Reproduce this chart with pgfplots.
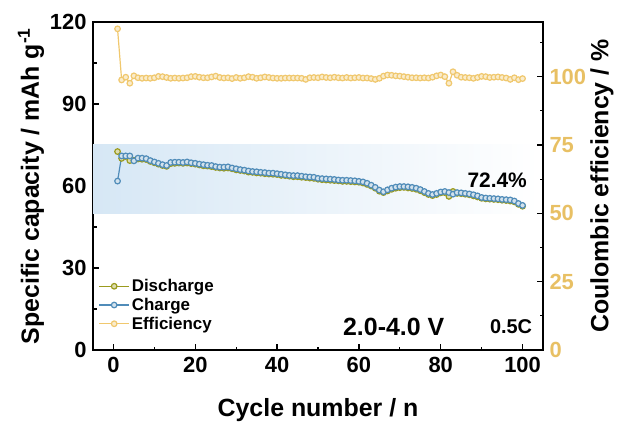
\documentclass[border=0pt]{standalone}
\usepackage{fontspec}
\setmainfont{Liberation Sans}
\usepackage{pgfplots}
\pgfplotsset{compat=1.18}
\usepackage{pgfplotstable}
\definecolor{eff}{RGB}{240,200,110}
\definecolor{effl}{RGB}{232,192,100}
\definecolor{chg}{RGB}{80,140,185}
\definecolor{dis}{RGB}{155,155,30}
\definecolor{shade}{RGB}{214,231,245}

\pgfplotstableread{
n c d e
1 61.8 72.6 117.5
2 71.0 70.1 98.8
3 71.0 70.8 99.8
4 71.0 69.3 97.6
5 69.2 69.4 100.3
6 70.2 69.9 99.6
7 70.2 69.8 99.4
8 70.0 69.7 99.5
9 69.3 69.0 99.4
10 68.8 68.5 99.6
11 68.3 68.0 100.1
12 67.8 67.5 100.0
13 67.5 67.2 99.7
14 68.6 68.2 99.4
15 68.7 68.3 99.5
16 68.7 68.4 99.4
17 68.6 68.3 99.5
18 68.8 68.4 99.6
19 68.5 68.2 100.0
20 68.3 68.0 100.1
21 68.0 67.7 99.8
22 67.8 67.4 99.6
23 67.6 67.3 99.6
24 67.5 67.1 99.9
25 67.1 66.8 100.2
26 66.9 66.6 99.7
27 66.9 66.5 99.5
28 67.0 66.6 99.6
29 66.6 66.3 99.3
30 66.3 65.9 99.7
31 66.0 65.7 99.4
32 65.8 65.5 99.6
33 65.5 65.1 100.0
34 65.3 65.0 99.8
35 65.2 64.8 99.4
36 65.0 64.7 99.6
37 64.9 64.5 99.9
38 64.7 64.4 99.7
39 64.7 64.3 99.5
40 64.5 64.2 99.4
41 64.3 63.9 99.4
42 64.1 63.8 99.5
43 63.9 63.6 99.5
44 63.8 63.4 99.5
45 63.8 63.4 99.5
46 63.6 63.2 99.4
47 63.4 63.1 99.0
48 63.3 62.9 99.6
49 63.2 62.8 99.7
50 62.8 62.5 99.6
51 62.7 62.3 99.9
52 62.6 62.2 99.7
53 62.5 62.1 99.6
54 62.4 62.0 99.8
55 62.2 61.9 99.6
56 62.1 61.7 99.5
57 62.1 61.7 99.7
58 62.0 61.6 99.5
59 61.9 61.5 99.6
60 61.7 61.4 99.7
61 61.5 61.1 99.5
62 61.0 60.6 99.5
63 60.3 60.0 99.3
64 59.5 59.2 99.0
65 58.5 58.1 99.4
66 57.9 57.6 100.2
67 58.6 58.2 100.6
68 59.2 58.8 100.5
69 59.6 59.2 100.3
70 59.8 59.4 100.2
71 59.8 59.5 100.0
72 59.7 59.3 99.8
73 59.5 59.1 99.6
74 59.2 58.8 99.6
75 58.7 58.3 99.5
76 58.0 57.6 99.6
77 57.3 56.9 99.5
78 56.9 56.5 99.8
79 57.3 56.9 100.3
80 57.8 57.5 100.6
81 58.0 57.6 100.0
82 57.6 56.2 97.6
83 57.0 58.0 101.8
84 57.6 57.3 100.5
85 57.5 57.2 99.8
86 57.3 57.0 99.7
87 57.1 56.8 99.6
88 56.8 56.4 99.4
89 56.4 56.0 99.7
90 55.8 55.5 100.1
91 55.6 55.3 100.0
92 55.5 55.2 99.7
93 55.4 55.1 99.8
94 55.3 55.0 99.9
95 55.1 54.8 99.7
96 55.0 54.7 99.5
97 54.9 54.5 99.0
98 54.5 54.2 99.6
99 53.6 53.3 98.9
100 52.9 52.6 99.3
}\data

\begin{document}
\begin{tikzpicture}
\useasboundingbox (0,0) rectangle (620bp,427bp);
\begin{axis}[
  at={(93bp,77bp)}, anchor=south west,
  width=450bp, height=328bp, scale only axis,
  xmin=-5, xmax=105, ymin=0, ymax=120,
  xtick={0,20,...,100}, ytick={0,30,...,120},
  minor x tick num=1, minor y tick num=1,
  xtick pos=bottom, ytick pos=left, tick align=inside,
  major tick length=6bp, minor tick length=3.5bp,
  axis line style={line width=1.2bp},
  every tick/.style={black, line width=1.2bp},
  /pgf/number format/assume math mode=true,
  tick label style={font=\bfseries\fontsize{22}{22}\selectfont},
  yticklabel style={xshift=-3bp},
  xticklabel style={yshift=-4bp},
  xlabel={Cycle number / n},
  ylabel={Specific capacity / mAh g\textsuperscript{-1}},
  label style={font=\bfseries\fontsize{25}{25}\selectfont},
  xlabel style={at={(axis description cs:0.5,-0.183)}, anchor=center},
  ylabel style={at={(axis description cs:-0.138,0.5)}, anchor=center},
  legend style={at={(axis description cs:0.012,0.222)}, anchor=north west,
    draw=none, fill=none, font=\bfseries\fontsize{17}{17}\selectfont,
    row sep=1bp, inner sep=0pt},
  legend cell align=left,
  legend image code/.code={\draw[mark repeat=2,mark phase=2] plot coordinates {(0bp,0bp) (15bp,0bp) (30bp,0bp)};},
]
\fill[left color=shade, right color=white] (axis cs:-5,50) rectangle (axis cs:104,75);
\addplot[dis, line width=1.2bp, mark=*, mark size=2.8bp, mark options={fill=dis!35!white, draw=dis}] table[x=n,y=d]{\data};
\addplot[chg, line width=1.2bp, mark=*, mark size=2.8bp, mark options={fill=chg!25!white, draw=chg}] table[x=n,y=c]{\data};
\addlegendimage{eff, line width=1.2bp, mark=*, mark size=2.8bp, mark options={fill=eff!35!white, draw=eff}}
\legend{Discharge, Charge, Efficiency}
\node[font=\bfseries\fontsize{21}{21}\selectfont] at (axis cs:93.8,62.2) {72.4\%};
\node[font=\bfseries\fontsize{25}{25}\selectfont] at (axis cs:68.5,8.4) {2.0-4.0 V};
\node[font=\bfseries\fontsize{20}{20}\selectfont] at (axis cs:97.2,8.4) {0.5C};
\end{axis}
\begin{axis}[
  at={(93bp,77bp)}, anchor=south west,
  width=450bp, height=328bp, scale only axis,
  xmin=-5, xmax=105, ymin=0, ymax=120,
  axis x line=none, axis y line*=right,
  ytick={0,25,...,100}, minor ytick={12.5,37.5,62.5,87.5,112.5},
  tick align=inside,
  major tick length=6bp, minor tick length=3.5bp,
  axis line style={line width=1.2bp},
  every tick/.style={black, line width=1.2bp},
  /pgf/number format/assume math mode=true,
  yticklabel style={font=\bfseries\fontsize{22}{22}\selectfont, color=effl, xshift=3bp},
  ylabel={Coulombic efficiency / \%},
  ylabel style={font=\bfseries\fontsize{25}{25}\selectfont, at={(axis description cs:1.131,0.5)}, anchor=center},
]
\addplot[eff, line width=1.2bp, mark=*, mark size=2.8bp, mark options={fill=eff!35!white, draw=eff}] table[x=n,y=e]{\data};
\end{axis}
\end{tikzpicture}
\end{document}
